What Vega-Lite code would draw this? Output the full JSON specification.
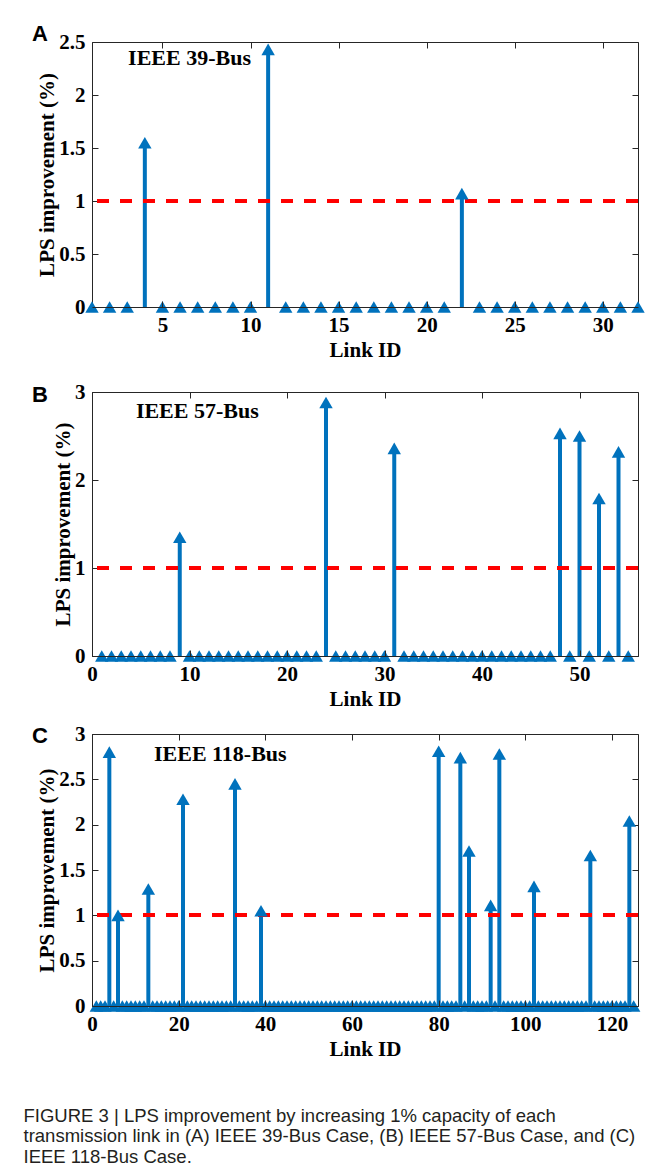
{
  "$schema": "https://vega.github.io/schema/vega-lite/v6.json",
  "background": "white",
  "padding": {"left": 23, "top": 22, "right": 5, "bottom": 0},
  "spacing": 12,
  "title": {
    "text": ["FIGURE 3 | LPS improvement by increasing 1% capacity of each", "transmission link in (A) IEEE 39-Bus Case, (B) IEEE 57-Bus Case, and (C)", "IEEE 118-Bus Case."],
    "orient": "bottom", "anchor": "start", "frame": "bounds",
    "font": "Liberation Sans", "fontSize": 18.5, "fontWeight": "normal", "lineHeight": 20.5,
    "color": "#231f20", "offset": 47, "dx": -8
  },
  "datasets": {
    "a": [
      {"link":1,"v":0},{"link":2,"v":0},{"link":3,"v":0},{"link":4,"v":1.55},{"link":5,"v":0},{"link":6,"v":0},{"link":7,"v":0},{"link":8,"v":0},
      {"link":9,"v":0},{"link":10,"v":0},{"link":11,"v":2.43},{"link":12,"v":0},{"link":13,"v":0},{"link":14,"v":0},{"link":15,"v":0},{"link":16,"v":0},
      {"link":17,"v":0},{"link":18,"v":0},{"link":19,"v":0},{"link":20,"v":0},{"link":21,"v":0},{"link":22,"v":1.07},{"link":23,"v":0},{"link":24,"v":0},
      {"link":25,"v":0},{"link":26,"v":0},{"link":27,"v":0},{"link":28,"v":0},{"link":29,"v":0},{"link":30,"v":0},{"link":31,"v":0},{"link":32,"v":0}
    ],
    "b": [
      {"link":1,"v":0},{"link":2,"v":0},{"link":3,"v":0},{"link":4,"v":0},{"link":5,"v":0},{"link":6,"v":0},{"link":7,"v":0},{"link":8,"v":0},
      {"link":9,"v":1.35},{"link":10,"v":0},{"link":11,"v":0},{"link":12,"v":0},{"link":13,"v":0},{"link":14,"v":0},{"link":15,"v":0},{"link":16,"v":0},
      {"link":17,"v":0},{"link":18,"v":0},{"link":19,"v":0},{"link":20,"v":0},{"link":21,"v":0},{"link":22,"v":0},{"link":23,"v":0},{"link":24,"v":2.88},
      {"link":25,"v":0},{"link":26,"v":0},{"link":27,"v":0},{"link":28,"v":0},{"link":29,"v":0},{"link":30,"v":0},{"link":31,"v":2.36},{"link":32,"v":0},
      {"link":33,"v":0},{"link":34,"v":0},{"link":35,"v":0},{"link":36,"v":0},{"link":37,"v":0},{"link":38,"v":0},{"link":39,"v":0},{"link":40,"v":0},
      {"link":41,"v":0},{"link":42,"v":0},{"link":43,"v":0},{"link":44,"v":0},{"link":45,"v":0},{"link":46,"v":0},{"link":47,"v":0},{"link":48,"v":2.53},
      {"link":49,"v":0},{"link":50,"v":2.5},{"link":51,"v":0},{"link":52,"v":1.79},{"link":53,"v":0},{"link":54,"v":2.32},{"link":55,"v":0}
    ],
    "c": [
      {"link":1,"v":0},{"link":2,"v":0},{"link":3,"v":0},{"link":4,"v":2.8},{"link":5,"v":0},{"link":6,"v":1.0},{"link":7,"v":0},{"link":8,"v":0},
      {"link":9,"v":0},{"link":10,"v":0},{"link":11,"v":0},{"link":12,"v":0},{"link":13,"v":1.29},{"link":14,"v":0},{"link":15,"v":0},{"link":16,"v":0},
      {"link":17,"v":0},{"link":18,"v":0},{"link":19,"v":0},{"link":20,"v":0},{"link":21,"v":2.28},{"link":22,"v":0},{"link":23,"v":0},{"link":24,"v":0},
      {"link":25,"v":0},{"link":26,"v":0},{"link":27,"v":0},{"link":28,"v":0},{"link":29,"v":0},{"link":30,"v":0},{"link":31,"v":0},{"link":32,"v":0},
      {"link":33,"v":2.45},{"link":34,"v":0},{"link":35,"v":0},{"link":36,"v":0},{"link":37,"v":0},{"link":38,"v":0},{"link":39,"v":1.05},{"link":40,"v":0},
      {"link":41,"v":0},{"link":42,"v":0},{"link":43,"v":0},{"link":44,"v":0},{"link":45,"v":0},{"link":46,"v":0},{"link":47,"v":0},{"link":48,"v":0},
      {"link":49,"v":0},{"link":50,"v":0},{"link":51,"v":0},{"link":52,"v":0},{"link":53,"v":0},{"link":54,"v":0},{"link":55,"v":0},{"link":56,"v":0},
      {"link":57,"v":0},{"link":58,"v":0},{"link":59,"v":0},{"link":60,"v":0},{"link":61,"v":0},{"link":62,"v":0},{"link":63,"v":0},{"link":64,"v":0},
      {"link":65,"v":0},{"link":66,"v":0},{"link":67,"v":0},{"link":68,"v":0},{"link":69,"v":0},{"link":70,"v":0},{"link":71,"v":0},{"link":72,"v":0},
      {"link":73,"v":0},{"link":74,"v":0},{"link":75,"v":0},{"link":76,"v":0},{"link":77,"v":0},{"link":78,"v":0},{"link":79,"v":0},{"link":80,"v":2.81},
      {"link":81,"v":0},{"link":82,"v":0},{"link":83,"v":0},{"link":84,"v":0},{"link":85,"v":2.74},{"link":86,"v":0},{"link":87,"v":1.71},{"link":88,"v":0},
      {"link":89,"v":0},{"link":90,"v":0},{"link":91,"v":0},{"link":92,"v":1.11},{"link":93,"v":0},{"link":94,"v":2.78},{"link":95,"v":0},{"link":96,"v":0},
      {"link":97,"v":0},{"link":98,"v":0},{"link":99,"v":0},{"link":100,"v":0},{"link":101,"v":0},{"link":102,"v":1.32},{"link":103,"v":0},{"link":104,"v":0},
      {"link":105,"v":0},{"link":106,"v":0},{"link":107,"v":0},{"link":108,"v":0},{"link":109,"v":0},{"link":110,"v":0},{"link":111,"v":0},{"link":112,"v":0},
      {"link":113,"v":0},{"link":114,"v":0},{"link":115,"v":1.66},{"link":116,"v":0},{"link":117,"v":0},{"link":118,"v":0},{"link":119,"v":0},{"link":120,"v":0},
      {"link":121,"v":0},{"link":122,"v":0},{"link":123,"v":0},{"link":124,"v":2.04},{"link":125,"v":0}
    ]
  },
  "vconcat": [
    {
      "spacing": 19,
      "vconcat": [
        {
          "title": {"text": "A", "offset": -15},
          "width": 546, "height": 265,
          "data": {"name": "a"},
          "layer": [
            {"mark": {"type": "rule", "color": "#0072BD", "strokeWidth": 4},
             "encoding": {
               "x": {"field": "link", "type": "quantitative", "scale": {"domain": [1, 32], "nice": false, "zero": false}, "axis": {"values": [5,10,15,20,25,30], "title": "Link ID", "zindex": 1}},
               "y": {"field": "v", "type": "quantitative", "scale": {"domain": [0, 2.5], "nice": false}, "axis": {"values": [0,0.5,1,1.5,2,2.5], "title": "LPS improvement (%)", "format": "~g"}},
               "y2": {"datum": 0}}},
            {"mark": {"type": "rule", "color": "#FF0000", "strokeWidth": 3, "strokeDash": [12, 11]},
             "encoding": {"y": {"datum": 1, "type": "quantitative", "axis": null}}},
            {"mark": {"type": "point", "shape": "triangle-up", "filled": true, "size": 180, "color": "#0072BD", "opacity": 1},
             "encoding": {"x": {"field": "link", "type": "quantitative", "axis": null}, "y": {"field": "v", "type": "quantitative", "axis": null}}},
            {"data": {"values": [{}]},
             "mark": {"type": "text", "text": "IEEE 39-Bus", "font": "Liberation Serif", "fontWeight": "bold", "fontSize": 22, "align": "left", "baseline": "middle", "color": "#000"},
             "encoding": {"x": {"datum": 3.05, "type": "quantitative", "axis": null}, "y": {"datum": 2.35, "type": "quantitative", "axis": null}}},
            {"mark": {"type": "point", "opacity": 0},
             "encoding": {
               "x": {"field": "link", "type": "quantitative", "axis": {"orient": "top", "labels": false, "title": null, "domain": false, "values": [5,10,15,20,25,30]}},
               "y": {"field": "v", "type": "quantitative", "axis": {"orient": "right", "labels": false, "title": null, "domain": false, "values": [0,0.5,1,1.5,2,2.5]}}}}
          ],
          "resolve": {"axis": {"x": "independent", "y": "independent"}}
        },
        {
          "title": {"text": "B", "offset": -26},
          "width": 546, "height": 264,
          "data": {"name": "b"},
          "layer": [
            {"mark": {"type": "rule", "color": "#0072BD", "strokeWidth": 4},
             "encoding": {
               "x": {"field": "link", "type": "quantitative", "scale": {"domain": [0, 56], "nice": false}, "axis": {"values": [0,10,20,30,40,50], "title": "Link ID", "zindex": 1}},
               "y": {"field": "v", "type": "quantitative", "scale": {"domain": [0, 3], "nice": false}, "axis": {"values": [0,1,2,3], "title": "LPS improvement (%)", "format": "~g"}},
               "y2": {"datum": 0}}},
            {"mark": {"type": "rule", "color": "#FF0000", "strokeWidth": 3, "strokeDash": [12, 11]},
             "encoding": {"y": {"datum": 1, "type": "quantitative", "axis": null}}},
            {"mark": {"type": "point", "shape": "triangle-up", "filled": true, "size": 180, "color": "#0072BD", "opacity": 1},
             "encoding": {"x": {"field": "link", "type": "quantitative", "axis": null}, "y": {"field": "v", "type": "quantitative", "axis": null}}},
            {"data": {"values": [{}]},
             "mark": {"type": "text", "text": "IEEE 57-Bus", "font": "Liberation Serif", "fontWeight": "bold", "fontSize": 22, "align": "left", "baseline": "middle", "color": "#000"},
             "encoding": {"x": {"datum": 4.5, "type": "quantitative", "axis": null}, "y": {"datum": 2.78, "type": "quantitative", "axis": null}}},
            {"mark": {"type": "point", "opacity": 0},
             "encoding": {
               "x": {"field": "link", "type": "quantitative", "axis": {"orient": "top", "labels": false, "title": null, "domain": false, "values": [0,10,20,30,40,50]}},
               "y": {"field": "v", "type": "quantitative", "axis": {"orient": "right", "labels": false, "title": null, "domain": false, "values": [0,1,2,3]}}}}
          ],
          "resolve": {"axis": {"x": "independent", "y": "independent"}}
        }
      ]
    },
    {
      "title": {"text": "C", "offset": -25},
      "width": 546, "height": 272,
      "data": {"name": "c"},
      "layer": [
        {"mark": {"type": "rule", "color": "#0072BD", "strokeWidth": 4},
         "encoding": {
           "x": {"field": "link", "type": "quantitative", "scale": {"domain": [0, 126], "nice": false}, "axis": {"values": [0,20,40,60,80,100,120], "title": "Link ID", "zindex": 1}},
           "y": {"field": "v", "type": "quantitative", "scale": {"domain": [0, 3], "nice": false}, "axis": {"values": [0,0.5,1,1.5,2,2.5,3], "title": "LPS improvement (%)", "format": "~g"}},
           "y2": {"datum": 0}}},
        {"mark": {"type": "rule", "color": "#FF0000", "strokeWidth": 3, "strokeDash": [12, 11]},
         "encoding": {"y": {"datum": 1, "type": "quantitative", "axis": null}}},
        {"mark": {"type": "point", "shape": "triangle-up", "filled": true, "size": 180, "color": "#0072BD", "opacity": 1},
         "encoding": {"x": {"field": "link", "type": "quantitative", "axis": null}, "y": {"field": "v", "type": "quantitative", "axis": null}}},
        {"data": {"values": [{}]},
         "mark": {"type": "text", "text": "IEEE 118-Bus", "font": "Liberation Serif", "fontWeight": "bold", "fontSize": 22, "align": "left", "baseline": "middle", "color": "#000"},
         "encoding": {"x": {"datum": 14.3, "type": "quantitative", "axis": null}, "y": {"datum": 2.78, "type": "quantitative", "axis": null}}},
        {"mark": {"type": "point", "opacity": 0},
         "encoding": {
           "x": {"field": "link", "type": "quantitative", "axis": {"orient": "top", "labels": false, "title": null, "domain": false, "values": [0,20,40,60,80,100,120]}},
           "y": {"field": "v", "type": "quantitative", "axis": {"orient": "right", "labels": false, "title": null, "domain": false, "values": [0,0.5,1,1.5,2,2.5,3]}}}}
      ],
      "resolve": {"axis": {"x": "independent", "y": "independent"}}
    }
  ],
  "config": {
    "view": {"stroke": "#262626", "strokeWidth": 1},
    "axis": {
      "grid": false,
      "labelFont": "Liberation Serif", "labelFontWeight": "bold", "labelFontSize": 21, "labelColor": "#000",
      "titleFont": "Liberation Serif", "titleFontWeight": "bold", "titleFontSize": 21, "titleColor": "#000",
      "domainColor": "#262626", "tickColor": "#262626", "tickSize": -6, "labelPadding": 13,
      "titlePadding": 4, "labelFlush": false, "labelOverlap": false
    },
    "axisY": {"titlePadding": 1},
    "title": {"anchor": "start", "frame": "group", "font": "Liberation Sans", "fontSize": 22, "fontWeight": "bold", "color": "#000", "dx": -60}
  }
}
